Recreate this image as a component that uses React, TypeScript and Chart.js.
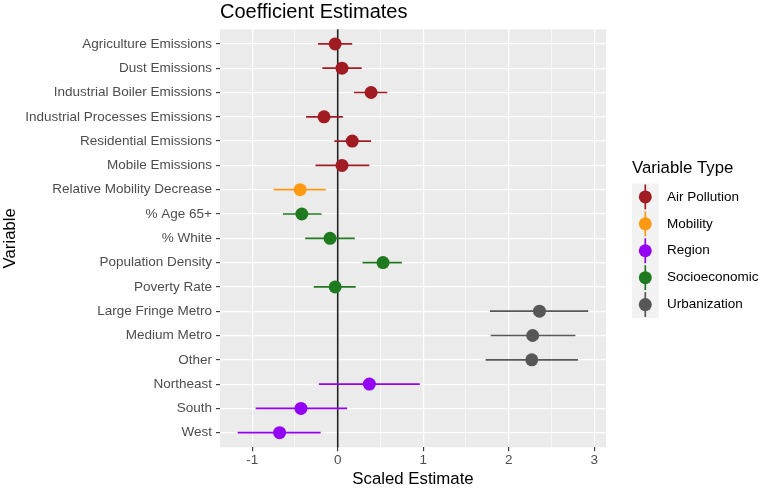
import React, { useEffect, useRef } from "react";
import { Chart, registerables } from "chart.js";

Chart.register(...registerables);

const variables = [
  "Agriculture Emissions",
  "Dust Emissions",
  "Industrial Boiler Emissions",
  "Industrial Processes Emissions",
  "Residential Emissions",
  "Mobile Emissions",
  "Relative Mobility Decrease",
  "% Age 65+",
  "% White",
  "Population Density",
  "Poverty Rate",
  "Large Fringe Metro",
  "Medium Metro",
  "Other",
  "Northeast",
  "South",
  "West",
];
const estimates = [-0.03, 0.05, 0.39, -0.16, 0.17, 0.05, -0.44, -0.42, -0.09, 0.53, -0.03, 2.36, 2.28, 2.27, 0.37, -0.43, -0.68];
const lower = [-0.23, -0.18, 0.19, -0.37, -0.04, -0.26, -0.75, -0.64, -0.38, 0.29, -0.28, 1.78, 1.79, 1.73, -0.22, -0.96, -1.17];
const upper = [0.17, 0.28, 0.58, 0.06, 0.39, 0.37, -0.14, -0.19, 0.2, 0.75, 0.21, 2.93, 2.78, 2.81, 0.96, 0.11, -0.2];
const groups = [
  "Air Pollution", "Air Pollution", "Air Pollution", "Air Pollution", "Air Pollution", "Air Pollution",
  "Mobility",
  "Socioeconomic", "Socioeconomic", "Socioeconomic", "Socioeconomic",
  "Urbanization", "Urbanization", "Urbanization",
  "Region", "Region", "Region",
];
const groupNames = ["Air Pollution", "Mobility", "Region", "Socioeconomic", "Urbanization"];
const groupColors = ["#A01C22", "#FF9912", "#9400F5", "#1F7A1F", "#575757"];
const xTickValues = [-1, 0, 1, 2, 3];

const FONT = "'Liberation Sans', Arial, Helvetica, sans-serif";

const colorOf = (g: string) => groupColors[groupNames.indexOf(g)];

const decorPlugin = {
  id: "decor",
  beforeDraw(chart: any) {
    const { ctx, chartArea } = chart;
    ctx.save();
    ctx.fillStyle = "#EBEBEB";
    ctx.fillRect(chartArea.left, chartArea.top, chartArea.right - chartArea.left, chartArea.bottom - chartArea.top);
    ctx.restore();
  },
  beforeDatasetsDraw(chart: any) {
    const { ctx, chartArea, scales } = chart;
    const xs = scales.x;
    const ys = scales.y;
    ctx.save();
    // zero reference line
    const x0 = xs.getPixelForValue(0);
    ctx.strokeStyle = "#222222";
    ctx.lineWidth = 1.6;
    ctx.beginPath();
    ctx.moveTo(x0, chartArea.top);
    ctx.lineTo(x0, chartArea.bottom);
    ctx.stroke();
    // error bars
    ctx.lineWidth = 1.7;
    variables.forEach((_, i) => {
      const y = ys.getPixelForValue(i + 1);
      ctx.strokeStyle = colorOf(groups[i]);
      ctx.beginPath();
      ctx.moveTo(xs.getPixelForValue(lower[i]), y);
      ctx.lineTo(xs.getPixelForValue(upper[i]), y);
      ctx.stroke();
    });
    ctx.restore();
  },
  afterDraw(chart: any) {
    const { ctx, chartArea } = chart;
    ctx.save();
    // title
    ctx.fillStyle = "#000000";
    ctx.font = `20px ${FONT}`;
    ctx.textAlign = "left";
    ctx.textBaseline = "alphabetic";
    ctx.fillText("Coefficient Estimates", chartArea.left, 18);
    // x axis title
    ctx.font = `16.8px ${FONT}`;
    ctx.textAlign = "center";
    ctx.textBaseline = "middle";
    ctx.fillText("Scaled Estimate", (chartArea.left + chartArea.right) / 2, 479);
    // y axis title
    ctx.save();
    ctx.translate(10, (chartArea.top + chartArea.bottom) / 2);
    ctx.rotate(-Math.PI / 2);
    ctx.fillText("Variable", 0, 0);
    ctx.restore();
    // legend
    const lx = 632;
    ctx.textAlign = "left";
    ctx.fillText("Variable Type", lx, 168);
    const keyTop = 183.5;
    const keyH = 26.9;
    const keyW = 26.6;
    ctx.fillStyle = "#F2F2F2";
    ctx.fillRect(lx, keyTop, keyW, keyH * groupNames.length);
    groupNames.forEach((g, i) => {
      const cy = keyTop + keyH * (i + 0.5);
      const cx = lx + keyW / 2;
      ctx.strokeStyle = groupColors[i];
      ctx.lineWidth = 1.7;
      ctx.beginPath();
      ctx.moveTo(cx, keyTop + keyH * i + 1);
      ctx.lineTo(cx, keyTop + keyH * (i + 1) - 1);
      ctx.stroke();
      ctx.fillStyle = groupColors[i];
      ctx.beginPath();
      ctx.arc(cx, cy, 6.5, 0, Math.PI * 2);
      ctx.fill();
      ctx.fillStyle = "#000000";
      ctx.font = `13.5px ${FONT}`;
      ctx.textBaseline = "middle";
      ctx.fillText(g, 667, cy);
    });
    ctx.restore();
  },
};

const isWhole = (v: number) => Math.abs(v - Math.round(v)) < 1e-9;

export default function App() {
  const canvasRef = useRef<HTMLCanvasElement | null>(null);

  useEffect(() => {
    if (!canvasRef.current) return;
    const datasets = groupNames.map((g, gi) => ({
      label: g,
      data: variables
        .map((_, i) => ({ x: estimates[i], y: i + 1, g: groups[i] }))
        .filter((d) => d.g === g)
        .map((d) => ({ x: d.x, y: d.y })),
      backgroundColor: groupColors[gi],
      borderWidth: 0,
      pointRadius: 6.5,
      pointHoverRadius: 6.5,
    }));

    const chart = new Chart(canvasRef.current, {
      type: "scatter",
      data: { datasets },
      plugins: [decorPlugin],
      options: {
        animation: false,
        responsive: false,
        devicePixelRatio: 1,
        layout: { padding: { top: 29.3, left: 0, right: 156, bottom: 0 } },
        plugins: {
          legend: { display: false },
          title: { display: false },
          tooltip: { enabled: false },
        },
        scales: {
          x: {
            type: "linear",
            min: -1.377,
            max: 3.138,
            border: { display: false },
            grid: {
              color: "#FFFFFF",
              lineWidth: (c: any) => (isWhole(c.tick.value) ? 1.2 : 0.6),
              tickColor: (c: any) =>
                isWhole(c.tick.value) && xTickValues.includes(Math.round(c.tick.value)) ? "#333333" : "rgba(0,0,0,0)",
              tickWidth: 1.1,
              tickLength: 4,
              drawTicks: true,
            },
            ticks: {
              stepSize: 0.5,
              includeBounds: false,
              autoSkip: false,
              maxRotation: 0,
              padding: 1,
              color: "#4D4D4D",
              font: { family: FONT, size: 13.5 },
              callback: (v: any) => (isWhole(Number(v)) ? String(Math.round(Number(v))) : ""),
            },
            afterFit: (scale: any) => {
              scale.height = 40.7;
            },
          },
          y: {
            type: "linear",
            min: 0.4,
            max: 17.6,
            reverse: true,
            border: { display: false },
            grid: {
              color: "#FFFFFF",
              lineWidth: 1.2,
              tickColor: "#333333",
              tickWidth: 1.1,
              tickLength: 4,
              drawTicks: true,
            },
            ticks: {
              stepSize: 1,
              includeBounds: false,
              autoSkip: false,
              padding: 4,
              color: "#4D4D4D",
              font: { family: FONT, size: 13.5 },
              callback: (v: any) => variables[Math.round(Number(v)) - 1] ?? "",
            },
            afterFit: (scale: any) => {
              scale.width = 220;
            },
          },
        },
      } as any,
    });
    return () => chart.destroy();
  }, []);

  return (
    <div style={{ position: "fixed", left: 0, top: 0, width: 762, height: 488, background: "#FFFFFF" }}>
      <canvas ref={canvasRef} width={762} height={488} style={{ width: 762, height: 488, display: "block" }} />
    </div>
  );
}
